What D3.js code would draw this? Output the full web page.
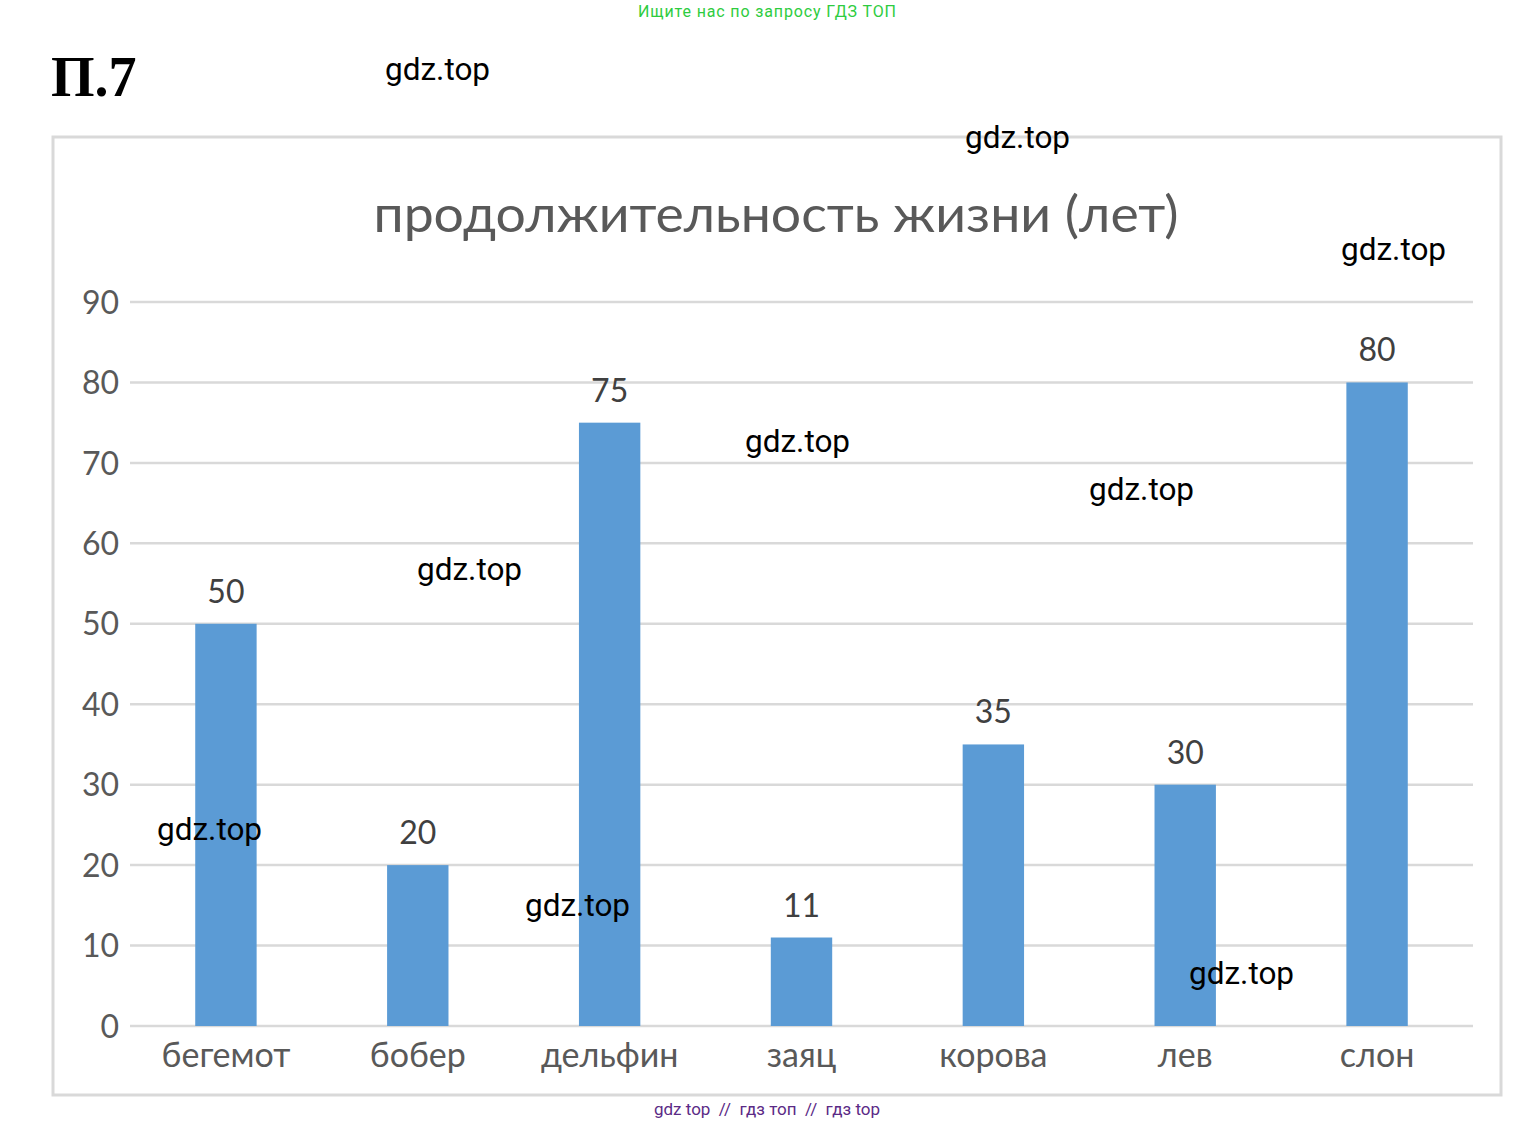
<!DOCTYPE html>
<html><head><meta charset="utf-8">
<script src="https://cdn.jsdelivr.net/npm/d3@7"></script>
<style>body{margin:0;background:#fff;}svg{display:block;}</style>
</head><body>
<script>
const categories = ["бегемот","бобер","дельфин","заяц","корова","лев","слон"];
const values = [50,20,75,11,35,30,80];
const yTicks = [0,10,20,30,40,50,60,70,80,90];
const title = "продолжительность жизни (лет)";
const watermarks = [[385,80],[965,148],[1341,260],[745,452],[1089,500],[417,580],[157,840],[525,916],[1189,984]];

const W=1537,H=1124;
const svg=d3.select("body").append("svg").attr("width",W).attr("height",H);
const font="Lato, 'Open Sans', sans-serif";

svg.append("text").attr("x",767).attr("y",17).attr("text-anchor","middle")
  .attr("font-family","Roboto").attr("font-size",16).attr("fill","#2ecc40")
  .attr("textLength",258).text("Ищите нас по запросу ГДЗ ТОП");
svg.append("text").attr("x",51).attr("y",96).attr("font-family","'Liberation Serif', serif")
  .attr("font-weight","bold").attr("font-size",56).attr("fill","#000").text("П.7");

svg.append("rect").attr("x",53).attr("y",137).attr("width",1448).attr("height",958)
  .attr("fill","#fff").attr("stroke","#d9d9d9").attr("stroke-width",3);

const x=d3.scaleBand().domain(categories).range([130,1473]).paddingInner(0.68).paddingOuter(0.34);
const y=d3.scaleLinear().domain([0,90]).range([1026,302]);

const g=svg.append("g");
g.selectAll("line.grid").data(yTicks).join("line").attr("class","grid")
  .attr("x1",130).attr("x2",1473).attr("y1",d=>y(d)).attr("y2",d=>y(d))
  .attr("stroke","#d9d9d9").attr("stroke-width",2.5);

const ya=svg.append("g").attr("transform","translate(119,0)")
  .call(d3.axisLeft(y).tickValues(yTicks).tickSize(0).tickPadding(0));
ya.select(".domain").remove();
ya.selectAll("text").attr("font-family",font).attr("font-size",32).attr("fill","#595959").attr("dy","0.35em");

const xa=svg.append("g").attr("transform","translate(0,1026)")
  .call(d3.axisBottom(x).tickSize(0).tickPadding(17));
xa.select(".domain").remove();
xa.selectAll("text").attr("font-family",font).attr("font-size",34).attr("fill","#595959").attr("dy","0.71em");

g.selectAll("rect.bar").data(values).join("rect").attr("class","bar")
  .attr("x",(d,i)=>x(categories[i])).attr("width",x.bandwidth())
  .attr("y",d=>y(d)).attr("height",d=>y(0)-y(d)).attr("fill","#5b9bd5");

g.selectAll("text.lbl").data(values).join("text").attr("class","lbl")
  .attr("x",(d,i)=>x(categories[i])+x.bandwidth()/2).attr("y",d=>y(d)-21)
  .attr("text-anchor","middle").attr("font-family",font).attr("font-size",32).attr("fill","#404040")
  .text(d=>d);

svg.append("text").attr("x",776).attr("y",232).attr("text-anchor","middle")
  .attr("font-family",font).attr("font-size",51).attr("fill","#595959")
  .attr("textLength",805).attr("lengthAdjust","spacingAndGlyphs").text(title);

svg.selectAll("text.wm").data(watermarks).join("text").attr("class","wm")
  .attr("x",d=>d[0]).attr("y",d=>d[1]).attr("font-family","Roboto").attr("font-size",31.5)
  .attr("fill","#000").text("gdz.top");

svg.append("text").attr("x",767).attr("y",1115).attr("text-anchor","middle")
  .attr("font-family","Roboto").attr("font-size",17).attr("fill","#5b2a86")
  .text("gdz top  //  гдз топ  //  гдз top").style("white-space","pre");
</script>
</body></html>
